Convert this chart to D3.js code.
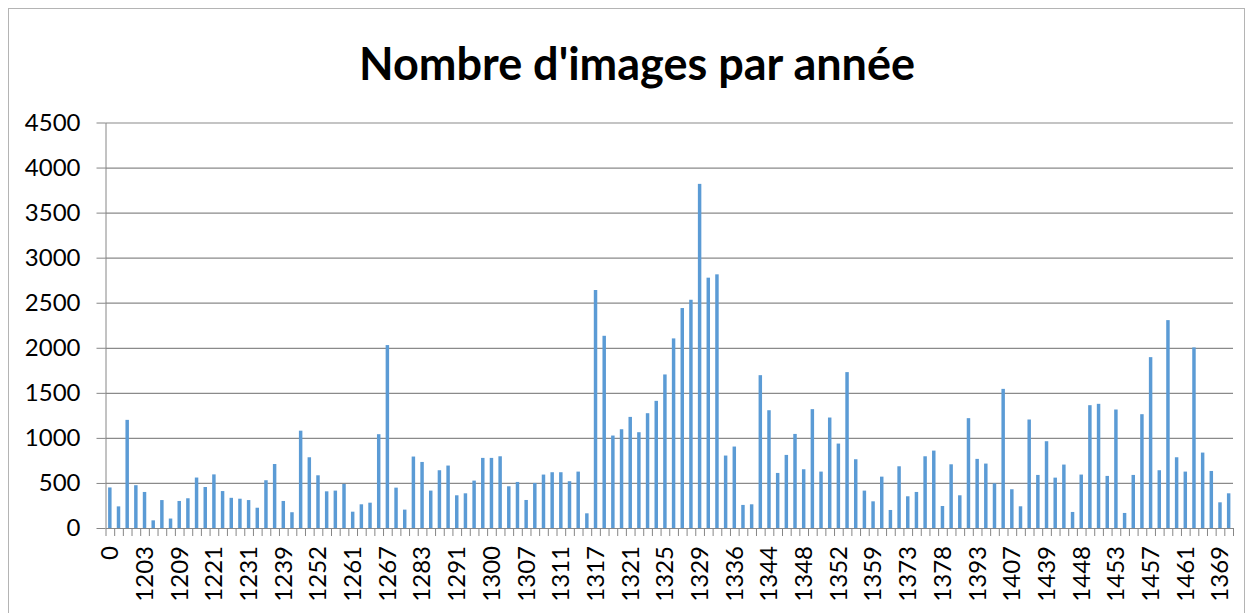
<!DOCTYPE html>
<html>
<head>
<meta charset="utf-8">
<script src="https://cdn.jsdelivr.net/npm/d3@7"></script>
<style>
	body { margin: 0; background: #fff; }
	svg { font-family: Lato, "Open Sans", sans-serif; }
	.axis--y .domain, .axis--x .domain { stroke: #868686; }
	.axis line { stroke: #868686; }
	.grid line { stroke: #8a8a8a; stroke-width: 1.2; }
	.grid .domain { display: none; }
</style>
</head>
<body>
<svg id="svg_bar" width="1253" height="613"></svg>
<script>
// values, one per category (130 categories)
var values = [
	450, 240, 1200, 475, 400, 85, 310, 105, 300, 330,
	560, 455, 595, 410, 335, 325, 310, 225, 530, 710,
	300, 175, 1080, 785, 585, 407, 415, 489, 181, 263,
	281, 1041, 2030, 448, 204, 793, 733, 415, 641, 693,
	363, 385, 526, 778, 778, 796, 463, 511, 311, 500,
	593, 619, 619, 519, 626, 163, 2641, 2133, 1026, 1096,
	1233, 1063, 1274, 1411, 1704, 2104, 2441, 2533, 3819, 2778,
	2815, 804, 904, 256, 263, 1696, 1307, 611, 811, 1044,
	652, 1319, 626, 1226, 937, 1730, 763, 415, 296, 570,
	200, 685, 352, 400, 796, 859, 244, 707, 363, 1219,
	767, 715, 496, 1544, 430, 241, 1204, 589, 963, 559,
	704, 178, 593, 1363, 1378, 578, 1315, 167, 589, 1263,
	1896, 641, 2307, 785, 626, 2004, 837, 633, 285, 385
];

// only every 4th category carries a visible label
var tickLabels = ["0", "1203", "1209", "1221", "1231", "1239", "1252", "1261", "1267",
	"1283", "1291", "1300", "1307", "1311", "1317", "1321", "1325", "1329", "1336",
	"1344", "1348", "1352", "1359", "1373", "1378", "1393", "1407", "1439", "1448",
	"1453", "1457", "1461", "1369"];

var yTicks = [0, 500, 1000, 1500, 2000, 2500, 3000, 3500, 4000, 4500];

var chartTitle = "Nombre d'images par année";

var svg_bar = d3.select("svg#svg_bar");
var margin = {top: 122.5, left: 105.5, right: 20, bottom: 85};
var plot_width = 1233 - margin.left;
var plot_height = 528 - margin.top;

// outer chart frame
svg_bar.append("rect")
.attr("x", 8.5)
.attr("y", 8.5)
.attr("width", 1236)
.attr("height", 640)
.attr("fill", "none")
.attr("stroke", "#b4b4b4");

svg_bar.append("text")
.attr("x", 637)
.attr("y", 80)
.attr("text-anchor", "middle")
.attr("font-size", 45)
.attr("font-weight", "bold")
.attr("fill", "#000")
.text(chartTitle);

var idx = d3.range(values.length);

var x_band = d3.scaleBand()
.domain(idx)
.range([0, plot_width])
.paddingInner(0.6)
.paddingOuter(0.3);

// boundary scale, for tick marks between the categories
var x_edge = d3.scaleLinear().domain([0, values.length]).range([0, plot_width]);

var y_bar = d3.scaleLinear().domain([0, 4500]).range([plot_height, 0]);

var focus = svg_bar.append("g")
.attr("transform", "translate(" + margin.left + "," + margin.top + ")");

// gridlines
focus.append("g")
.attr("class", "grid")
.call(d3.axisLeft(y_bar)
.tickValues(yTicks.slice(1))
.tickSize(-plot_width)
.tickFormat(""));

// the bars
focus.selectAll(".bar")
.data(idx)
.enter().append("rect")
.attr("class", "bar")
.attr("x", function(d) { return x_band(d); })
.attr("width", x_band.bandwidth())
.attr("y", function(d) { return y_bar(values[d]); })
.attr("height", function(d) { return plot_height - y_bar(values[d]); })
.attr("fill", "#5b9bd5");

// y axis
var y_axis = focus.append("g")
.attr("class", "axis axis--y")
.call(d3.axisLeft(y_bar)
.tickValues(yTicks)
.tickSize(9)
.tickSizeOuter(0)
.tickPadding(16)
.tickFormat(d3.format("d")));
y_axis.selectAll("text")
.attr("font-size", 24)
.attr("font-family", "Lato, sans-serif")
.attr("fill", "#000");

// x axis: tick marks at category edges
focus.append("g")
.attr("class", "axis axis--x")
.attr("transform", "translate(0," + plot_height + ")")
.call(d3.axisBottom(x_edge)
.tickValues(d3.range(values.length + 1))
.tickSize(8)
.tickSizeOuter(0)
.tickFormat(""));

// x axis labels, rotated
var x_lab = focus.append("g")
.attr("class", "axis axis--lab")
.attr("transform", "translate(0," + plot_height + ")")
.call(d3.axisBottom(x_band)
.tickValues(idx.filter(function(d) { return d % 4 === 0; }))
.tickSize(0)
.tickFormat(function(d) { return tickLabels[d / 4]; }));
x_lab.select(".domain").remove();
x_lab.selectAll("text")
.attr("transform", "rotate(-90)")
.attr("text-anchor", "end")
.attr("x", -18)
.attr("y", 0)
.attr("dy", "0.35em")
.attr("font-size", 24)
.attr("font-family", "Lato, sans-serif")
.attr("fill", "#000");
</script>
</body>
</html>
